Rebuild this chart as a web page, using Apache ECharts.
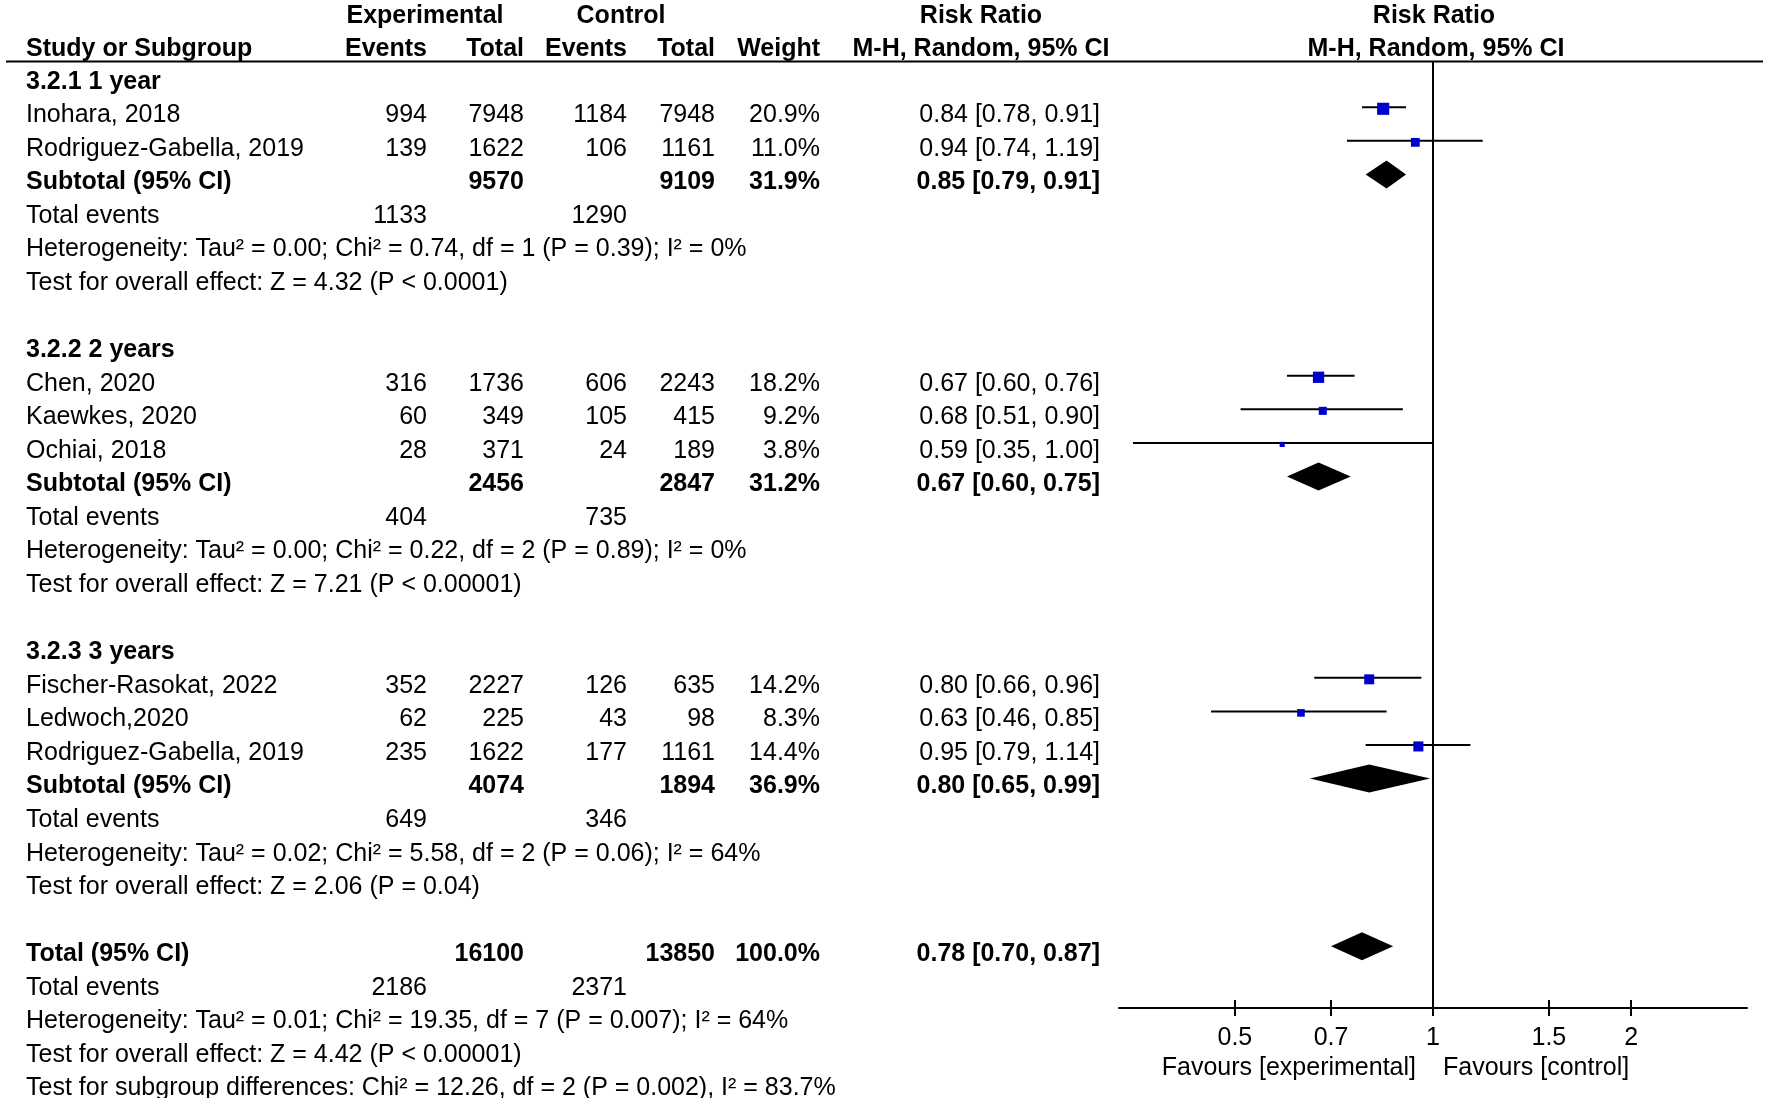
<!DOCTYPE html>
<html>
<head>
<meta charset="utf-8">
<script src="https://cdn.jsdelivr.net/npm/echarts@6/dist/echarts.min.js"></script>
<style>
  html, body { margin: 0; padding: 0; background: #fff; }
  #chart { width: 1772px; height: 1098px; }
</style>
</head>
<body>
<div id="chart"></div>
<script>
// ---- data ----
const subgroupTitles = ['3.2.1 1 year', '3.2.2 2 years', '3.2.3 3 years'];
const studyNames = [
  ['Inohara, 2018', 'Rodriguez-Gabella, 2019'],
  ['Chen, 2020', 'Kaewkes, 2020', 'Ochiai, 2018'],
  ['Fischer-Rasokat, 2022', 'Ledwoch,2020', 'Rodriguez-Gabella, 2019']
];
const expEvents = [[994, 139], [316, 60, 28], [352, 62, 235]];
const expTotal = [[7948, 1622], [1736, 349, 371], [2227, 225, 1622]];
const ctrlEvents = [[1184, 106], [606, 105, 24], [126, 43, 177]];
const ctrlTotal = [[7948, 1161], [2243, 415, 189], [635, 98, 1161]];
const weights = [[20.9, 11.0], [18.2, 9.2, 3.8], [14.2, 8.3, 14.4]];
const rr = [[0.84, 0.94], [0.67, 0.68, 0.59], [0.80, 0.63, 0.95]];
const rrLower = [[0.78, 0.74], [0.60, 0.51, 0.35], [0.66, 0.46, 0.79]];
const rrUpper = [[0.91, 1.19], [0.76, 0.90, 1.00], [0.96, 0.85, 1.14]];

const subExpTotal = [9570, 2456, 4074];
const subCtrlTotal = [9109, 2847, 1894];
const subWeight = [31.9, 31.2, 36.9];
const subRR = [0.85, 0.67, 0.80];
const subLower = [0.79, 0.60, 0.65];
const subUpper = [0.91, 0.75, 0.99];
const subExpEvents = [1133, 404, 649];
const subCtrlEvents = [1290, 735, 346];
const subTau2 = ['0.00', '0.00', '0.02'];
const subChi2 = ['0.74', '0.22', '5.58'];
const subDf = [1, 2, 2];
const subHetP = ['P = 0.39', 'P = 0.89', 'P = 0.06'];
const subI2 = [0, 0, 64];
const subZ = ['4.32', '7.21', '2.06'];
const subZP = ['P < 0.0001', 'P < 0.00001', 'P = 0.04'];

const totalExpTotal = 16100;
const totalCtrlTotal = 13850;
const totalWeight = 100.0;
const totalRR = 0.78, totalLower = 0.70, totalUpper = 0.87;
const totalExpEvents = 2186, totalCtrlEvents = 2371;
const totalHet = 'Heterogeneity: Tau² = 0.01; Chi² = 19.35, df = 7 (P = 0.007); I² = 64%';
const totalTest = 'Test for overall effect: Z = 4.42 (P < 0.00001)';
const subgroupTest = 'Test for subgroup differences: Chi² = 12.26, df = 2 (P = 0.002), I² = 83.7%';

const tickValues = [0.5, 0.7, 1, 1.5, 2];
const tickLabels = ['0.5', '0.7', '1', '1.5', '2'];
const axisMin = 1 / 3, axisMax = 3;

// ---- layout ----
const FONT = '"Liberation Sans", Arial, Helvetica, sans-serif';
const FS = 25;
const COL = { name: 26, expEv: 427, expTot: 524, ctlEv: 627, ctlTot: 715, wt: 820, rr: 1100 };
const ROW_TOP = -0.6, ROW_AXIS = 27.6;
const MARK_SHIFT = -8;

const fmt2 = v => v.toFixed(2);
const ciText = (e, l, u) => fmt2(e) + ' [' + fmt2(l) + ', ' + fmt2(u) + ']';

const cells = [];
const cell = (x, row, text, align, bold) => cells.push({ x, row, text: String(text), align, bold: !!bold });

// headers
cell(425, -1.97, 'Experimental', 'center', true);
cell(621, -1.97, 'Control', 'center', true);
cell(981, -1.97, 'Risk Ratio', 'center', true);
cell(1434, -1.97, 'Risk Ratio', 'center', true);
cell(COL.name, -0.97, 'Study or Subgroup', 'left', true);
cell(COL.expEv, -0.97, 'Events', 'right', true);
cell(COL.expTot, -0.97, 'Total', 'right', true);
cell(COL.ctlEv, -0.97, 'Events', 'right', true);
cell(COL.ctlTot, -0.97, 'Total', 'right', true);
cell(COL.wt, -0.97, 'Weight', 'right', true);
cell(981, -0.97, 'M-H, Random, 95% CI', 'center', true);
cell(1436, -0.97, 'M-H, Random, 95% CI', 'center', true);

const studyPts = [];
const diamondPts = [];
let r = 0;
subgroupTitles.forEach((title, g) => {
  cell(COL.name, r, title, 'left', true);
  r++;
  studyNames[g].forEach((nm, s) => {
    cell(COL.name, r, nm, 'left');
    cell(COL.expEv, r, expEvents[g][s], 'right');
    cell(COL.expTot, r, expTotal[g][s], 'right');
    cell(COL.ctlEv, r, ctrlEvents[g][s], 'right');
    cell(COL.ctlTot, r, ctrlTotal[g][s], 'right');
    cell(COL.wt, r, weights[g][s].toFixed(1) + '%', 'right');
    cell(COL.rr, r, ciText(rr[g][s], rrLower[g][s], rrUpper[g][s]), 'right');
    studyPts.push([Math.log10(rr[g][s]), Math.log10(rrLower[g][s]), Math.log10(rrUpper[g][s]), r, weights[g][s]]);
    r++;
  });
  cell(COL.name, r, 'Subtotal (95% CI)', 'left', true);
  cell(COL.expTot, r, subExpTotal[g], 'right', true);
  cell(COL.ctlTot, r, subCtrlTotal[g], 'right', true);
  cell(COL.wt, r, subWeight[g].toFixed(1) + '%', 'right', true);
  cell(COL.rr, r, ciText(subRR[g], subLower[g], subUpper[g]), 'right', true);
  diamondPts.push([Math.log10(subRR[g]), Math.log10(subLower[g]), Math.log10(subUpper[g]), r]);
  r++;
  cell(COL.name, r, 'Total events', 'left');
  cell(COL.expEv, r, subExpEvents[g], 'right');
  cell(COL.ctlEv, r, subCtrlEvents[g], 'right');
  r++;
  cell(COL.name, r, 'Heterogeneity: Tau² = ' + subTau2[g] + '; Chi² = ' + subChi2[g] + ', df = ' + subDf[g] +
    ' (' + subHetP[g] + '); I² = ' + subI2[g] + '%', 'left');
  r++;
  cell(COL.name, r, 'Test for overall effect: Z = ' + subZ[g] + ' (' + subZP[g] + ')', 'left');
  r += 2;
});
cell(COL.name, r, 'Total (95% CI)', 'left', true);
cell(COL.expTot, r, totalExpTotal, 'right', true);
cell(COL.ctlTot, r, totalCtrlTotal, 'right', true);
cell(COL.wt, r, totalWeight.toFixed(1) + '%', 'right', true);
cell(COL.rr, r, ciText(totalRR, totalLower, totalUpper), 'right', true);
diamondPts.push([Math.log10(totalRR), Math.log10(totalLower), Math.log10(totalUpper), r]);
r++;
cell(COL.name, r, 'Total events', 'left');
cell(COL.expEv, r, totalExpEvents, 'right');
cell(COL.ctlEv, r, totalCtrlEvents, 'right');
r++;
cell(COL.name, r, totalHet, 'left'); r++;
cell(COL.name, r, totalTest, 'left'); r++;
cell(COL.name, r, subgroupTest, 'left');

const logTicks = tickValues.map(v => Math.log10(v));
const tickFmt = v => {
  const i = logTicks.findIndex(t => Math.abs(t - v) < 1e-6);
  return i >= 0 ? tickLabels[i] : '';
};

const chart = echarts.init(document.getElementById('chart'), null, { renderer: 'canvas' });
const gridTop = 61.6, gridBottom = 90;
const gridHeight = 1098 - gridTop - gridBottom;

chart.setOption({
  animation: false,
  backgroundColor: '#fff',
  grid: [
    { left: 0, right: 0, top: gridTop, bottom: gridBottom },
    { left: 1119, right: 25, top: gridTop, bottom: gridBottom }
  ],
  xAxis: [
    { gridIndex: 0, type: 'value', min: 0, max: 1772, show: false },
    {
      gridIndex: 1, type: 'value', position: 'bottom',
      min: Math.log10(axisMin), max: Math.log10(axisMax),
      splitLine: { show: false },
      axisLine: { show: true, onZero: false, lineStyle: { color: '#000', width: 2 } },
      axisTick: { show: true, customValues: logTicks, length: 8, lineStyle: { color: '#000', width: 2 } },
      axisLabel: {
        show: true, customValues: logTicks, formatter: tickFmt, margin: 18,
        color: '#000', fontSize: FS, fontFamily: FONT
      }
    },
    {
      // same scale, shifted down onto the bottom line: supplies the upper half of each tick
      gridIndex: 1, type: 'value', position: 'top', offset: -gridHeight,
      min: Math.log10(axisMin), max: Math.log10(axisMax),
      splitLine: { show: false },
      axisLine: { show: false, onZero: false },
      axisTick: { show: true, inside: false, customValues: logTicks, length: 8, lineStyle: { color: '#000', width: 2 } },
      axisLabel: { show: false }
    }
  ],
  yAxis: [
    { gridIndex: 0, type: 'value', min: ROW_TOP, max: ROW_AXIS, inverse: true, show: false },
    { gridIndex: 1, type: 'value', min: ROW_TOP, max: ROW_AXIS, inverse: true, show: false }
  ],
  series: [
    {
      // table text
      type: 'custom', xAxisIndex: 0, yAxisIndex: 0, silent: true, clip: false,
      data: cells.map(c => [c.x, c.row]),
      renderItem: (params, api) => {
        const c = cells[params.dataIndex];
        const p = api.coord([api.value(0), api.value(1)]);
        return {
          type: 'text', x: p[0], y: p[1],
          style: {
            text: c.text, fill: '#000', align: c.align, verticalAlign: 'middle',
            fontSize: FS, fontFamily: FONT, fontWeight: c.bold ? 'bold' : 'normal'
          }
        };
      }
    },
    {
      // header rule
      type: 'custom', xAxisIndex: 0, yAxisIndex: 0, silent: true, clip: false,
      data: [[6, ROW_TOP, 1763]],
      renderItem: (params, api) => {
        const a = api.coord([api.value(0), api.value(1)]);
        const b = api.coord([api.value(2), api.value(1)]);
        return { type: 'line', shape: { x1: a[0], y1: a[1], x2: b[0], y2: b[1] }, style: { stroke: '#000', lineWidth: 2 } };
      }
    },
    {
      // study CIs and weighted squares
      type: 'custom', xAxisIndex: 1, yAxisIndex: 1, silent: true, clip: false,
      data: studyPts,
      renderItem: (params, api) => {
        const e = api.coord([api.value(0), api.value(3)]);
        const lo = api.coord([api.value(1), api.value(3)]);
        const hi = api.coord([api.value(2), api.value(3)]);
        const y = e[1] + MARK_SHIFT;
        const s = 2.65 * Math.sqrt(api.value(4));
        return {
          type: 'group', children: [
            { type: 'line', shape: { x1: lo[0], y1: y, x2: hi[0], y2: y }, style: { stroke: '#000', lineWidth: 2 } },
            { type: 'rect', shape: { x: e[0] - s / 2, y: y + 1.5 - s / 2, width: s, height: s }, style: { fill: '#0000CC' } }
          ]
        };
      },
      markLine: {
        silent: true, symbol: 'none', animation: false,
        label: { show: false },
        lineStyle: { color: '#000', width: 2, type: 'solid' },
        data: [{ xAxis: 0 }]
      }
    },
    {
      // pooled diamonds
      type: 'custom', xAxisIndex: 1, yAxisIndex: 1, silent: true, clip: false,
      data: diamondPts,
      renderItem: (params, api) => {
        const e = api.coord([api.value(0), api.value(3)]);
        const lo = api.coord([api.value(1), api.value(3)]);
        const hi = api.coord([api.value(2), api.value(3)]);
        const y = e[1] + MARK_SHIFT, h = 14;
        return {
          type: 'polygon',
          shape: { points: [[lo[0], y], [e[0], y - h], [hi[0], y], [e[0], y + h]] },
          style: { fill: '#000' }
        };
      }
    },
    {
      // favours labels under the axis
      type: 'custom', xAxisIndex: 1, yAxisIndex: 1, silent: true, clip: false,
      data: [[0, 29.4]],
      renderItem: (params, api) => {
        const p = api.coord([api.value(0), api.value(1)]);
        const st = { fill: '#000', verticalAlign: 'middle', fontSize: FS, fontFamily: FONT };
        return {
          type: 'group', children: [
            { type: 'text', x: p[0] - 17, y: p[1], style: Object.assign({ text: 'Favours [experimental]', align: 'right' }, st) },
            { type: 'text', x: p[0] + 10, y: p[1], style: Object.assign({ text: 'Favours [control]', align: 'left' }, st) }
          ]
        };
      }
    }
  ]
});
</script>
</body>
</html>
